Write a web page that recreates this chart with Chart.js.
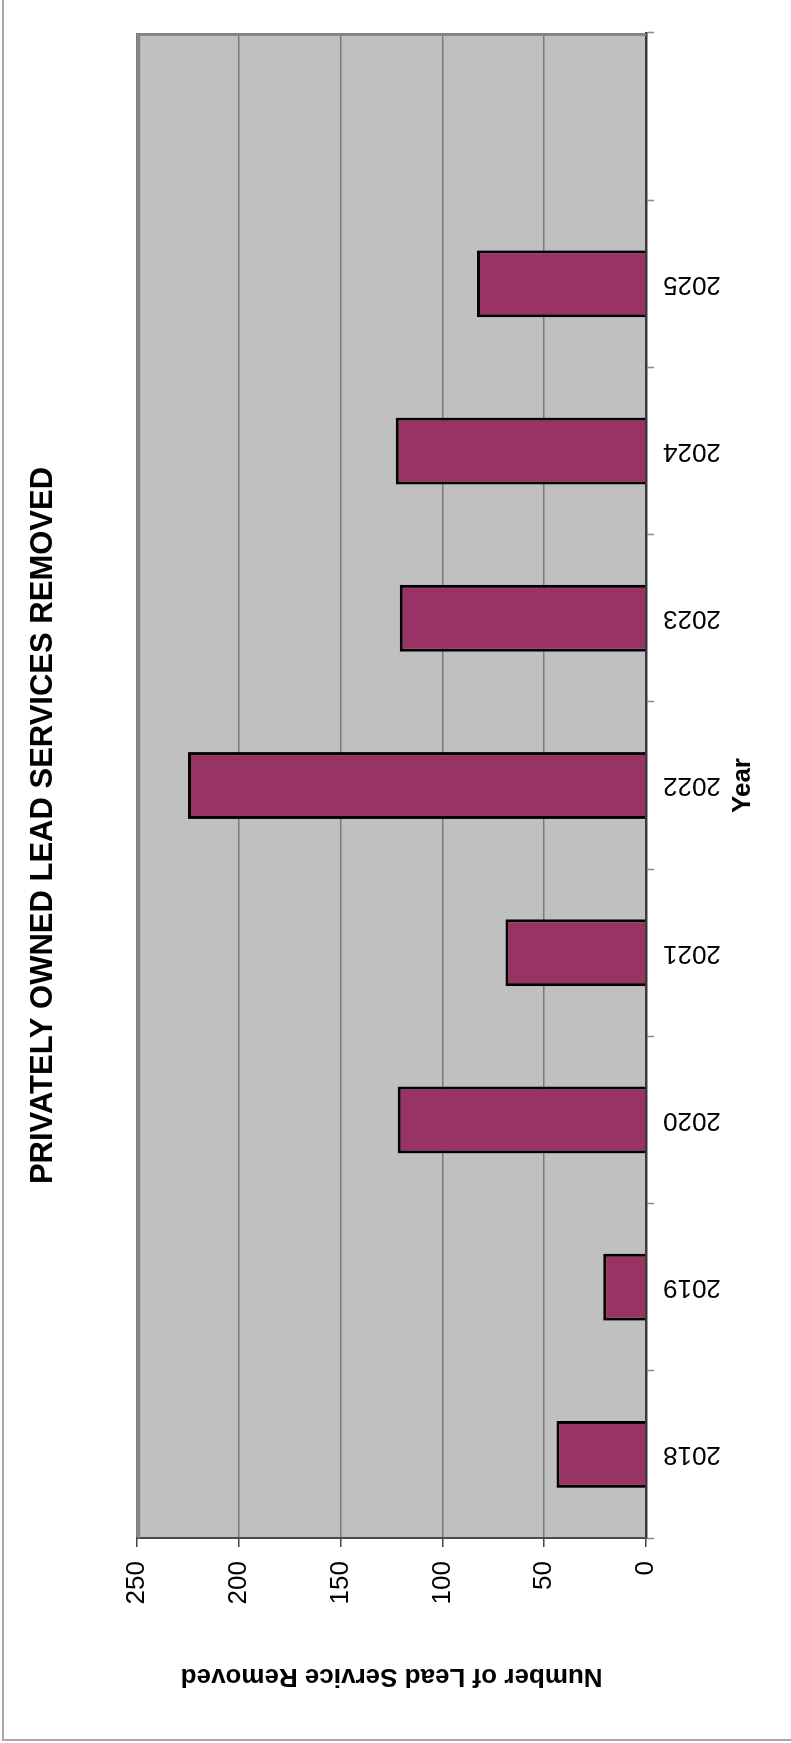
<!doctype html>
<html>
<head>
	<meta charset="UTF-8">
	<title>Privately Owned Lead Services Removed</title>
	<script src="https://cdn.jsdelivr.net/npm/chart.js@4.4.1/dist/chart.umd.min.js"></script>
	<style>
		html, body { margin: 0; padding: 0; background: #fff; overflow: hidden; }
		/* the chart is drawn upright and then turned a quarter turn to the left, like the printed original */
		#holder {
			position: absolute; left: 0; top: 0;
			width: 1743px; height: 791px;
			transform-origin: 0 0;
			transform: translateY(1743px) rotate(-90deg);
		}
		#chart { display: block; width: 1743px; height: 791px; }
	</style>
</head>
<body>
	<div id="holder"><canvas id="chart" width="1743" height="791"></canvas></div>
	<script>
		const years = ['2018', '2019', '2020', '2021', '2022', '2023', '2024', '2025', '']
		const removed = [44, 21, 122, 69, 225, 121, 123, 83, null]
		const valueMin = 0
		const valueMax = 250
		const valueStep = 50

		const FONT = '"Liberation Sans", Arial, Helvetica, sans-serif'
		const TITLE_SHIFT = 40

		// white page, thin outer frame, silver plot area with its grey edge
		const frame = {
			id: 'frame',
			afterLayout (chart) {
				chart.titleBlock.left -= TITLE_SHIFT
				chart.titleBlock.right -= TITLE_SHIFT
			},
			beforeDraw (chart) {
				const { ctx, chartArea: a } = chart
				ctx.save()
				ctx.fillStyle = '#fff'
				ctx.fillRect(0, 0, chart.width, chart.height)
				ctx.strokeStyle = '#a8a8a8'
				ctx.lineWidth = 2
				ctx.strokeRect(3, 3, chart.width + 20, chart.height + 20)
				ctx.fillStyle = '#c0c0c0'
				ctx.fillRect(a.left, a.top, a.right - a.left, a.bottom - a.top)
				ctx.restore()
			},
			beforeDatasetsDraw (chart) {
				const { ctx, chartArea: a } = chart
				ctx.save()
				ctx.strokeStyle = '#858585'
				ctx.lineWidth = 3
				ctx.beginPath()
				ctx.moveTo(a.left, a.top + 1.5)
				ctx.lineTo(a.right - 1.5, a.top + 1.5)
				ctx.lineTo(a.right - 1.5, a.bottom)
				ctx.stroke()
				ctx.restore()
			}
		}

		const config = {
			type: 'bar',
			data: {
				labels: years,
				datasets: [{
					data: removed,
					backgroundColor: '#993366',
					borderColor: '#000',
					borderWidth: 3,
					barPercentage: 0.4,
					categoryPercentage: 1
				}]
			},
			options: {
				responsive: false,
				animation: false,
				devicePixelRatio: 1,
				layout: {
					padding: { top: 0, left: 0, right: 33, bottom: 0 }
				},
				plugins: {
					legend: { display: false },
					tooltip: { enabled: false },
					title: {
						display: true,
						fullSize: false,
						text: 'PRIVATELY OWNED LEAD SERVICES REMOVED',
						color: '#000',
						font: { family: FONT, size: 31, weight: 'bold' },
						padding: { top: 25, bottom: 75 }
					}
				},
				scales: {
					x: {
						position: 'bottom',
						offset: true,
						grid: {
							display: true,
							offset: true,
							drawOnChartArea: false,
							drawTicks: true,
							tickLength: 8,
							tickColor: '#8a8a8a',
							tickWidth: 1.5
						},
						border: { display: true, color: '#3a3a3a', width: 2.5 },
						ticks: {
							color: '#000',
							font: { family: FONT, size: 26 },
							minRotation: 90,
							maxRotation: 90,
							autoSkip: false,
							padding: 9
						},
						title: {
							display: true,
							text: 'Year',
							color: '#000',
							font: { family: FONT, size: 26, weight: 'bold' },
							padding: { top: 0, bottom: 33 }
						},
						afterFit (scale) { scale.height = 145 }
					},
					y: {
						position: 'left',
						min: valueMin,
						max: valueMax,
						grid: {
							color: '#7a7a7a',
							lineWidth: 1.5,
							drawTicks: true,
							tickLength: 9,
							tickColor: '#444',
							tickWidth: 1.5
						},
						border: { display: true, color: '#4a4a4a', width: 2 },
						ticks: {
							stepSize: valueStep,
							color: '#000',
							font: { family: FONT, size: 26 },
							padding: 14
						},
						title: {
							display: true,
							text: 'Number of Lead Service Removed',
							color: '#000',
							font: { family: FONT, size: 26, weight: 'bold' },
							padding: { top: 51, bottom: 0 }
						},
						afterFit (scale) { scale.width = 205 }
					}
				}
			},
			plugins: [frame]
		}

		new Chart(document.getElementById('chart'), config)
	</script>
</body>
</html>
